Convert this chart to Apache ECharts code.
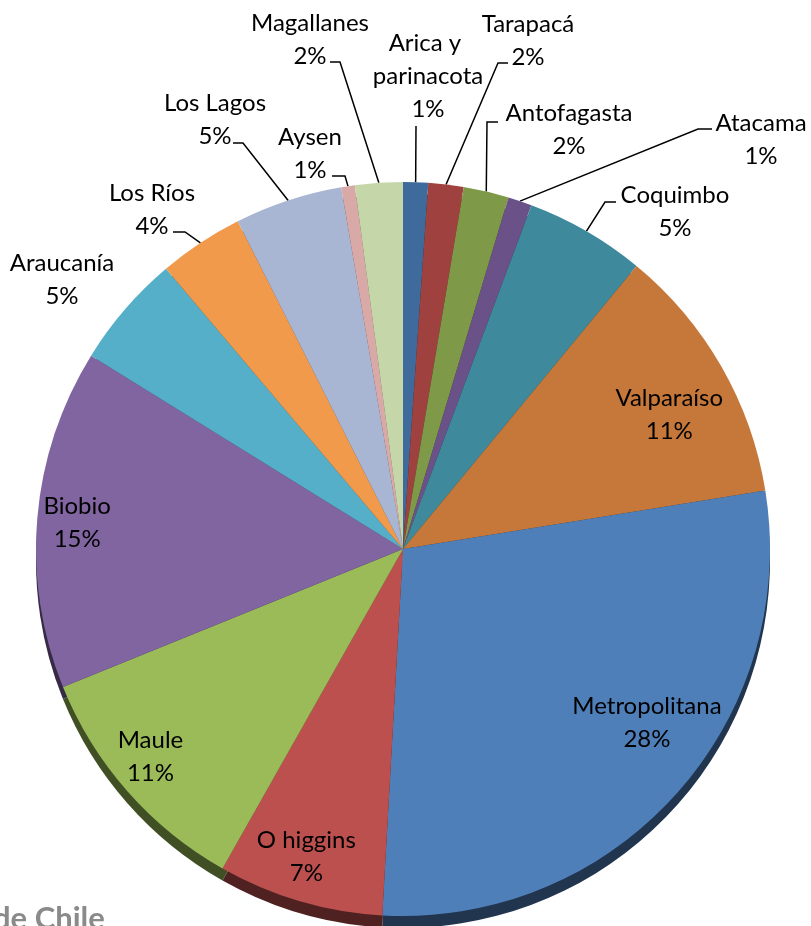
<!DOCTYPE html>
<html>
<head>
<meta charset="utf-8">
<script src="https://cdn.jsdelivr.net/npm/echarts@6/dist/echarts.min.js"></script>
<style>
html, body { margin: 0; padding: 0; background: #fff; }
#regiones-pie { width: 811px; height: 926px; }
</style>
</head>
<body>
<div id="regiones-pie"></div>
<script>
// regiones en orden horario desde las 12
const regiones = ["Arica y parinacota", "Tarapacá", "Antofagasta", "Atacama", "Coquimbo", "Valparaíso", "Metropolitana", "O higgins", "Maule", "Biobio", "Araucanía", "Los Ríos", "Los Lagos", "Aysen", "Magallanes"];
// participación (%) estimada del gráfico
const participacion = [1.1, 1.55, 2.0, 1.05, 5.3, 11.5, 28.5, 7.3, 10.7, 15.0, 5.0, 3.75, 4.75, 0.6, 2.1];
const colores = ["#3F6A9C", "#9F413E", "#7E9A48", "#6A5187", "#3E8A9C", "#C5783A", "#4F7FB9", "#BC504E", "#9BBB59", "#8065A1", "#55AFC8", "#F19A4C", "#A8B6D4", "#D9A9A8", "#C5D6A8"];

// etiquetas internas: desplazamiento respecto de la posición que da echarts
const dentro = {
  "Valparaíso": [-7, 22],
  "Metropolitana": [10, -37],
  "O higgins": [-8, 6],
  "Maule": [-16, 0],
  "Biobio": [-12, 0],
};

// etiquetas externas: centro del texto y codo / fin de la línea guía
const fuera = {
  "Arica y parinacota": { x: 428, y: 76, codo: [416, 126], fin: [416, 126] },
  "Tarapacá": { x: 528, y: 41, codo: [498, 63], fin: [508, 63] },
  "Antofagasta": { x: 569, y: 130, codo: [487, 122], fin: [498, 122] },
  "Atacama": { x: 761, y: 140, codo: [698, 129], fin: [712, 129] },
  "Coquimbo": { x: 675, y: 212, codo: [605, 202], fin: [616, 202] },
  "Araucanía": { x: 62, y: 280 },
  "Los Ríos": { x: 152, y: 210, codo: [185, 232], fin: [173, 232] },
  "Los Lagos": { x: 215, y: 120, codo: [243, 143], fin: [233, 143] },
  "Aysen": { x: 310, y: 154, codo: [345, 176], fin: [332, 176] },
  "Magallanes": { x: 310, y: 40, codo: [340, 62], fin: [330, 62] },
};

const centro = [403, 549];
const radio = 367;
const grosor = 12; // canto 3D

function oscurecer(hex, f) {
  const n = parseInt(hex.slice(1), 16);
  const r = Math.round(((n >> 16) & 255) * f);
  const g = Math.round(((n >> 8) & 255) * f);
  const b = Math.round((n & 255) * f);
  return "rgb(" + r + "," + g + "," + b + ")";
}

const fmt = (p) => p.name + "\n" + Math.round(p.percent) + "%";
const txt = { color: "#000", fontFamily: "Lato", fontSize: 24, lineHeight: 33, overflow: "none" };

const myChart = echarts.init(document.getElementById("regiones-pie"));
let option;
option = {
  animation: false,
  backgroundColor: "#fff",
  graphic: [
    {
      type: "text",
      x: -7,
      y: 903,
      style: { text: "de Chile", fill: "#8a8a8a", font: "bold 31px Lato" },
    },
  ],
  series: [
    {
      // canto inferior
      type: "pie",
      silent: true,
      startAngle: 90,
      center: [centro[0], centro[1] + grosor],
      radius: radio,
      label: { show: false },
      labelLine: { show: false },
      data: regiones.map((name, i) => ({
        name,
        value: participacion[i],
        itemStyle: { color: oscurecer(colores[i], 0.42) },
      })),
    },
    {
      type: "pie",
      silent: true,
      startAngle: 90,
      center: centro,
      radius: radio,
      avoidLabelOverlap: false,
      itemStyle: { borderWidth: 0 },
      label: { ...txt, position: "outside", alignTo: "none", formatter: fmt },
      labelLine: { show: true, lineStyle: { color: "#000", width: 1.5 } },
      labelLayout: function (params) {
        const s = fuera[regiones[params.dataIndex]];
        if (!s) return;
        const out = { x: s.x, y: s.y, align: "center", verticalAlign: "middle" };
        if (s.codo && params.labelLinePoints) {
          out.labelLinePoints = [params.labelLinePoints[0], s.codo, s.fin];
        }
        return out;
      },
      data: regiones.map((name, i) => ({
        name,
        value: participacion[i],
        itemStyle: { color: colores[i] },
        label: name === "Arica y parinacota"
          ? { show: true, width: 122, overflow: "break" }
          : { show: !dentro[name] },
        labelLine: { show: !dentro[name] && !!(fuera[name] && fuera[name].codo) },
      })),
    },
    {
      // anillo transparente solo para ubicar las etiquetas internas
      type: "pie",
      silent: true,
      startAngle: 90,
      center: centro,
      radius: [radio * 0.7, radio],
      itemStyle: { color: "rgba(0,0,0,0)", borderWidth: 0 },
      label: { ...txt, position: "inside", formatter: fmt },
      labelLine: { show: false },
      labelLayout: function (params) {
        const d = dentro[regiones[params.dataIndex]];
        if (!d) return;
        return { dx: d[0], dy: d[1] };
      },
      data: regiones.map((name, i) => ({
        name,
        value: participacion[i],
        label: { show: !!dentro[name] },
      })),
    },
  ],
};
option && myChart.setOption(option);
</script>
</body>
</html>
